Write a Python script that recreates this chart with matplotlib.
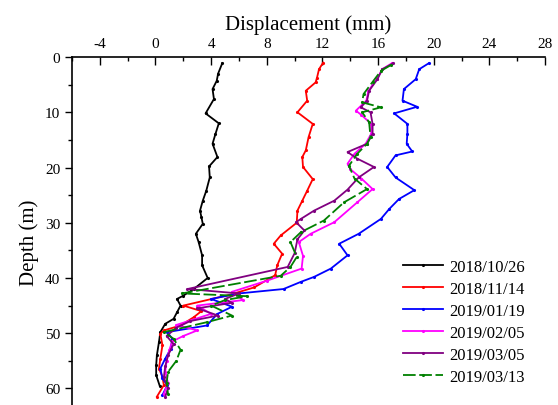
import matplotlib
matplotlib.use("Agg")
import matplotlib.pyplot as plt
from matplotlib.ticker import MultipleLocator

plt.rcParams['font.family'] = ['Liberation Serif', 'DejaVu Serif']
plt.rcParams['axes.unicode_minus'] = False

# inclinometer readings: depth (m) and displacement (mm) for each survey date
black_d = [1.1, 3, 4.3, 5.8, 7.6, 10.2, 12, 14, 15.7, 18.1, 19.8, 21.8, 24.2, 26, 27.8, 29, 30.2, 32,
           33.5, 35.9, 37.7, 40, 42, 43.2, 43.8, 45, 46.2, 47.4, 48.3, 49.8, 51.6, 54, 55.8, 57.6, 59.5]
black_x = [4.8, 4.5, 4.4, 4.1, 4.2, 3.6, 4.55, 4.3, 4.1, 4.45, 3.85, 3.9, 3.65, 3.4, 3.2, 3.3, 3.4, 2.9,
           3.1, 3.35, 3.35, 3.75, 2.75, 2.0, 1.55, 1.8, 1.55, 1.3, 0.7, 0.35, 0.25, 0.1, 0.05, 0.05, 0.3]

red_d = [1, 2.2, 3.8, 4.6, 6.1, 7.9, 10, 12.1, 14.5, 16.9, 18.1, 19.9, 22.1, 24.2, 26, 27.8, 30, 32.3,
         33.8, 35.6, 37.7, 39.5, 41.7, 43.0, 45.0, 46.0, 47.1, 48.6, 49.5, 50.1, 52.2, 54.6, 56.4, 57.9,
         59.4, 61.5]
red_x = [12.05, 11.75, 11.6, 11.5, 10.8, 10.9, 10.2, 11.3, 11.0, 10.8, 10.55, 10.6, 11.3, 10.9, 10.55,
         10.2, 10.15, 9.0, 8.5, 9.1, 8.75, 8.6, 7.1, 5.4, 2.0, 3.3, 2.75, 1.8, 0.6, 0.35, 0.5, 0.35, 0.25,
         0.5, 0.6, 0.1]

blue_d = [1.1, 2.2, 4, 5.8, 7.9, 9, 10.2, 12.1, 13.9, 15.7, 17.1, 17.8, 19.9, 21.8, 24.1, 25.7, 27.5,
          29.3, 32, 33.8, 35.9, 38.3, 39.8, 40.7, 42, 42.8, 43.8, 45.2, 46.5, 48.6, 49.8, 51, 52.8, 54.6,
          56.4, 58.2, 59.4, 61.2]
blue_x = [19.65, 18.95, 18.7, 17.85, 17.75, 18.8, 17.15, 18.1, 18.1, 18.05, 18.45, 17.25, 16.65, 17.25,
          18.6, 17.5, 16.8, 16.2, 14.6, 13.2, 13.8, 12.6, 11.4, 10.45, 9.2, 6.0, 4.0, 5.5, 4.45, 3.7,
          0.85, 1.2, 1.1, 0.7, 0.35, 0.5, 0.85, 0.5]

mag_d = [1.1, 2.2, 4, 6.1, 7.9, 9.7, 10.5, 12.1, 13.9, 15.7, 17.5, 19.3, 20.3, 22, 23.9, 26.3, 29.9, 32,
         33.5, 36, 38.3, 40.5, 42.5, 44, 45, 46.5, 48.5, 49.5, 50.5, 51.5, 53, 55, 57, 59, 61]
mag_x = [17.0, 16.3, 15.9, 15.3, 15.15, 14.4, 14.8, 15.5, 15.5, 15.1, 14.3, 13.8, 14.0, 14.8, 15.6, 14.5,
         12.85, 11.15, 10.3, 10.6, 10.5, 8.0, 5.5, 6.3, 3.0, 4.0, 1.5, 3.0, 2.0, 1.2, 1.0, 0.8, 0.7, 0.9,
         0.6]

pur_d = [1.1, 2.2, 4, 6.1, 7.9, 9.1, 10, 12.1, 13.9, 15.7, 17.2, 18.4, 19.9, 21.8, 24, 26, 27.8, 29.3,
         29.9, 31.4, 33, 35.5, 38, 42, 42.8, 43.8, 44.5, 45.5, 46.8, 47.8, 49, 50.5, 52, 54, 56, 58, 60,
         61.5]
pur_x = [17.1, 16.3, 15.95, 15.35, 15.2, 14.75, 15.45, 15.6, 15.6, 15.2, 13.8, 14.5, 15.7, 14.6, 13.8,
         12.85, 11.4, 10.45, 10.1, 10.7, 10.2, 10.0, 9.5, 2.3, 6.0, 5.0, 5.5, 3.0, 4.5, 2.5, 1.5, 0.8, 1.3,
         0.9, 0.7, 0.6, 0.9, 0.7]

grn_d = [1.4, 2.5, 4.5, 6.7, 8.2, 9.1, 10, 11.8, 14.5, 15.7, 17.5, 19.7, 22, 23.9, 26.3, 29.6, 31.7, 33.5,
         36.2, 38, 39.6, 42.8, 43.3, 44, 45, 46.8, 48, 49.8, 51, 53, 55, 57, 59, 61]
grn_x = [16.95, 16.2, 15.6, 14.95, 14.85, 16.2, 14.85, 15.35, 15.45, 15.2, 14.5, 13.9, 14.3, 15.2, 13.55,
         12.1, 10.45, 9.7, 10.15, 9.7, 9.0, 1.9, 6.6, 5.0, 4.0, 5.5, 3.7, 0.6, 1.3, 1.8, 1.5, 0.9, 0.8,
         0.9]

dates = ["2018/10/26", "2018/11/14", "2019/01/19", "2019/02/05", "2019/03/05", "2019/03/13"]
colors = ["black", "#ff0000", "#0000ff", "#ff00ff", "#800080", "#008000"]
series = [(black_x, black_d), (red_x, red_d), (blue_x, blue_d),
          (mag_x, mag_d), (pur_x, pur_d), (grn_x, grn_d)]

fig = plt.figure(figsize=(5.58, 4.06), dpi=100)
ax = fig.add_axes([0.129, 0.0, 0.848, 0.857])

for (xs, ds), c, lab in zip(series, colors, dates):
    ls = (0, (7, 2)) if lab == "2019/03/13" else "-"
    ax.plot(xs, ds, color=c, lw=1.3, ls=ls, marker=".", ms=2.5, label=lab)

ax.set_xlim(-6, 28)
ax.set_ylim(63, 0)
ax.xaxis.tick_top()
ax.xaxis.set_label_position("top")
ax.xaxis.set_major_locator(MultipleLocator(4))
ax.xaxis.set_minor_locator(MultipleLocator(2))
ax.yaxis.set_major_locator(MultipleLocator(10))
ax.yaxis.set_minor_locator(MultipleLocator(5))
ax.tick_params(axis="x", which="major", direction="in", length=6, width=1, labelsize=11, pad=5)
ax.tick_params(axis="x", which="minor", direction="in", length=3, width=1)
ax.tick_params(axis="y", which="major", direction="out", length=5, width=1, labelsize=11)
ax.tick_params(axis="y", which="minor", direction="out", length=3, width=1)

for side in ("right", "bottom"):
    ax.spines[side].set_visible(False)
for side in ("top", "left"):
    ax.spines[side].set_linewidth(1.2)

ax.set_xlabel("Displacement (mm)", fontsize=15, labelpad=6)
ax.set_ylabel("Depth (m)", fontsize=15)
ax.yaxis.set_label_coords(-0.07, 0.47)

leg = ax.legend(loc="lower right", bbox_to_anchor=(0.99, 0.015), frameon=False, fontsize=12,
                handlelength=2.4, labelspacing=0.36, handletextpad=0.4)

fig.savefig("out.png", dpi=100)
